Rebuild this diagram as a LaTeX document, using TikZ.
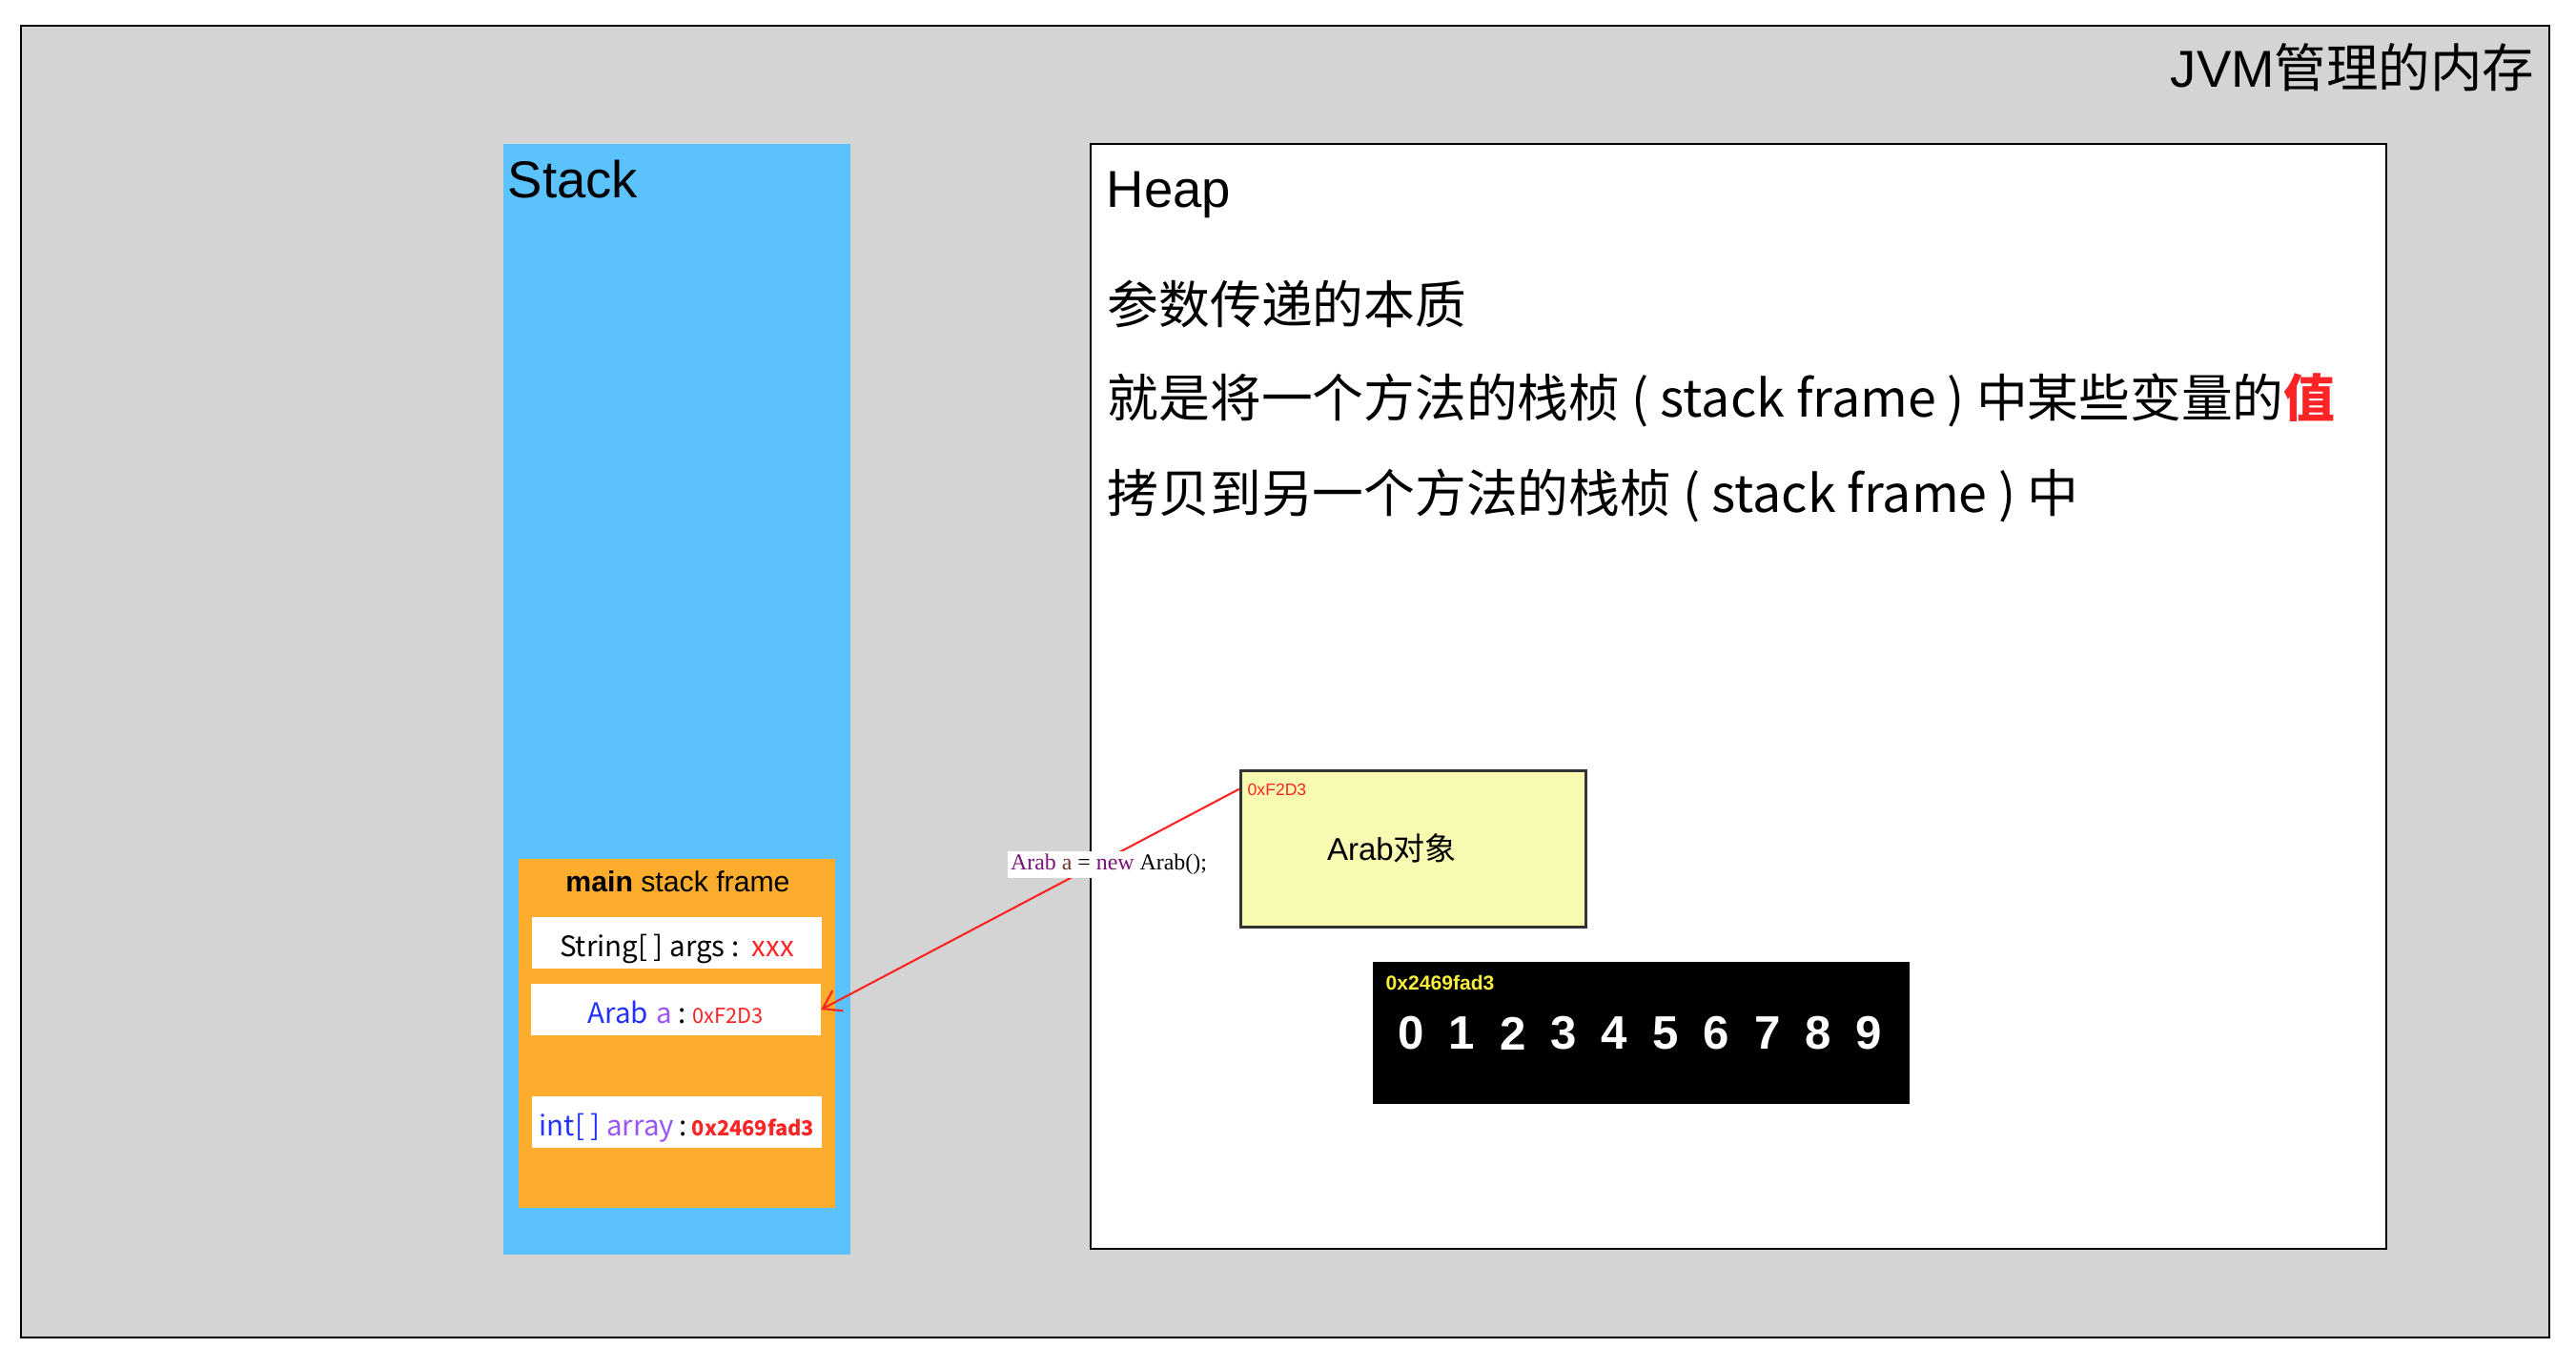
\documentclass[tikz,border=0pt]{standalone}
\usepackage{fontspec}
\setmainfont{Liberation Sans}
\newfontfamily\cjk{Noto Sans CJK SC}
\newfontfamily\codefont{Liberation Serif}
\usetikzlibrary{positioning,arrows.meta}
\newcommand{\fsz}[1]{\fontsize{#1}{#1}\selectfont}
\definecolor{jvmgray}{RGB}{212,212,212}
\definecolor{stackblue}{RGB}{92,194,251}
\definecolor{frameorange}{RGB}{252,173,46}
\definecolor{objyellow}{RGB}{249,250,178}
\definecolor{addrred}{RGB}{252,36,36}
\definecolor{typeblue}{RGB}{35,50,255}
\definecolor{varpurple}{RGB}{153,85,250}
\definecolor{codepurple}{RGB}{120,20,120}
\definecolor{codebrown}{RGB}{110,50,50}
\definecolor{hexyellow}{RGB}{250,238,60}
\tikzset{
  region/.style={rectangle, inner sep=0pt, anchor=north west},
  slot/.style={rectangle, fill=white, minimum width=3.04cm, minimum height=0.54cm, inner sep=0pt, text height=0.85em, text depth=0pt, font=\cjk\fsz{8.4pt}},
  title/.style={inner sep=0pt, font=\fsz{15.5pt}},
  note/.style={inner sep=0pt, anchor=base west, font=\cjk\fsz{15.3pt}},
  digit/.style={inner sep=0pt, text=white, font=\bfseries\fsz{14pt}},
  ptr/.style={draw=addrred, line width=0.6pt, -{Straight Barb[length=1.8mm,width=2.4mm]}}
}

\begin{document}
\begin{tikzpicture}
  \useasboundingbox (0,0) rectangle (27.02,14.34);
  \node[region, draw=black, line width=0.6pt, fill=jvmgray, minimum width=26.52cm, minimum height=13.76cm] (jvm) at (0.21,14.08) {};
  \node[region, fill=stackblue, minimum width=3.64cm, minimum height=11.65cm] (stack) at (5.27,12.84) {};
  \node[region, draw=black, line width=0.6pt, fill=white, minimum width=13.59cm, minimum height=11.59cm] (heap) at (11.43,12.84) {};
  \node[title, anchor=base east] (jvmlbl) at (26.59,13.42) {JVM{\cjk 管理的内存}};
  \node[title, anchor=base west] (stacklbl) at (5.32,12.26) {Stack};
  \node[title, anchor=base west] (heaplbl) at (11.60,12.16) {Heap};
  % heap notes
  \node[note] (line1) at (11.61,10.94) {参数传递的本质};
  \node[note] (line2) at (11.61,9.96) {就是将一个方法的栈桢 ( stack frame ) 中某些变量的{\bfseries\color{addrred}值}};
  \node[note] (line3) at (11.61,8.96) {拷贝到另一个方法的栈桢 ( stack frame ) 中};
  % main frame
  \node[region, fill=frameorange, minimum width=3.32cm, minimum height=3.66cm] (frame) at (5.43,5.34) {};
  \node[inner sep=0pt, font=\fsz{8.6pt}] (framelbl) at (7.11,5.09) {\textbf{main} stack frame};
  \node[slot] (args) at (7.10,4.45) {String[ ] args :\ \ \textcolor{addrred}{xxx}};
  \node[slot] (arab) at (7.085,3.75) {\textcolor{typeblue}{Arab}\kern2.6pt\textcolor{varpurple}{a}\kern1.8pt:\kern1.8pt{\fsz{6.2pt}\textcolor{addrred}{0xF2D3}}};
  \node[slot] (arr) at (7.10,2.575) {\textcolor{typeblue}{int[ ]} \textcolor{varpurple}{array}\kern1.5pt:\kern1.5pt{\fsz{6.2pt}\bfseries\textcolor{addrred}{0x2469fad3}}};
  % objects
  \node[region, draw=black!80, line width=0.8pt, fill=objyellow, minimum width=3.62cm, minimum height=1.64cm] (obj) at (13.00,6.27) {};
  \node[inner sep=0pt, text=addrred, font=\fsz{5pt}, below right=0.15cm and 0.08cm of obj.north west] (objaddr) {0xF2D3};
  \node[inner sep=0pt, font=\fsz{9.4pt}] (objlbl) at (14.60,5.44) {Arab{\cjk 对象}};
  \node[region, fill=black, minimum width=5.63cm, minimum height=1.49cm] (arrbox) at (14.39,4.26) {};
  \node[inner sep=0pt, text=hexyellow, font=\bfseries\fsz{6pt}, below right=0.15cm and 0.14cm of arrbox.north west] (arraddr) {0x2469fad3};
  \foreach \d in {0,...,9}
    \node[digit] (d\d) at (14.80+0.534*\d,3.50) {\d};
  % reference
  \draw[ptr] (obj.161) -- (arab.east);
  \node[fill=white, inner sep=1pt, font=\codefont\fsz{6.8pt}] (code) at (11.63,5.27) {\textcolor{codepurple}{Arab} \textcolor{codebrown}{a} = \textcolor{codepurple}{new} Arab();};
\end{tikzpicture}
\end{document}
